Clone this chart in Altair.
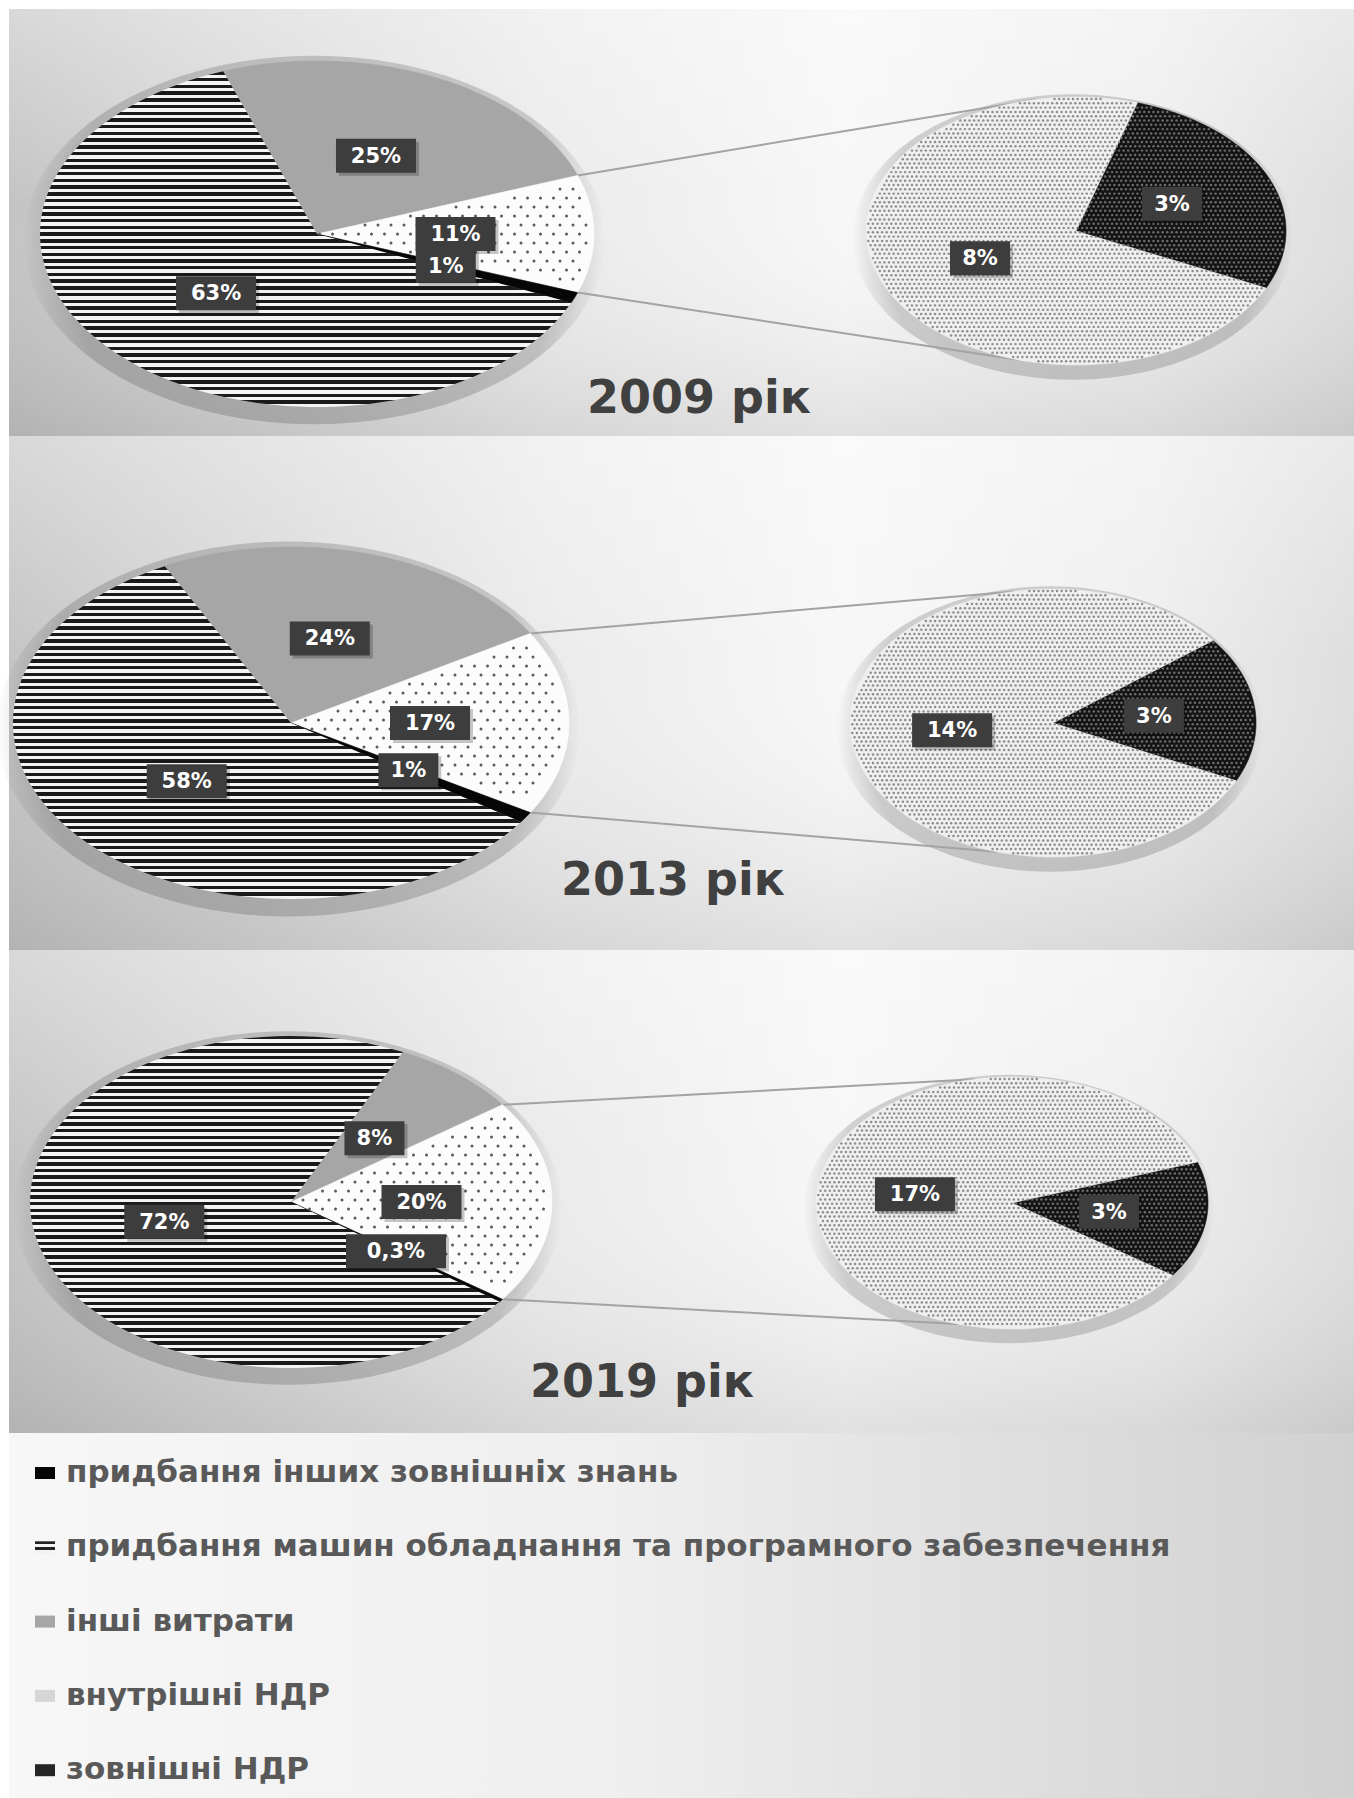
import altair as alt
import pandas as pd

W, H = 1354, 1798

# ---------------- data ----------------
YEARS = ["2009", "2013", "2019"]
YEAR_TITLES = ["2009 рік", "2013 рік", "2019 рік"]

MAIN_CATEGORIES = [
    "інші витрати",
    "НДР",
    "придбання інших зовнішніх знань",
    "придбання машин обладнання та програмного забезпечення",
]
MAIN_2009 = [25, 11, 1, 63]
MAIN_2013 = [24, 17, 1, 58]
MAIN_2019 = [8, 20, 0.3, 72]

SUB_CATEGORIES = ["зовнішні НДР", "внутрішні НДР"]
SUB_2009 = [3, 8]
SUB_2013 = [3, 14]
SUB_2019 = [3, 17]

LEGEND_LABELS = [
    "придбання інших зовнішніх знань",
    "придбання машин обладнання та програмного забезпечення",
    "інші витрати",
    "внутрішні НДР",
    "зовнішні НДР",
]

# ---------------- layout / style ----------------
LAYOUT = {
    "2009": dict(top=9, bottom=436, cx=317, cy=234, a=277, b=173,
                 rcx=1076, rcy=231, ra=210, rb=134, sub_start=17, tx=699, ty=413),
    "2013": dict(top=436, bottom=950, cx=291, cy=723, a=278, b=176,
                 rcx=1053, rcy=723, ra=203, rb=134, sub_start=52, tx=673, ty=895),
    "2019": dict(top=950, bottom=1433, cx=291, cy=1202, a=261, b=166,
                 rcx=1012, rcy=1203, ra=196, rb=126, sub_start=71, tx=642, ty=1397),
}
UP_ANG, DOWN_ANG = -11, 196
FONT = "DejaVu Sans"
GRAY_FILL = "#a6a6a6"
BLACK_FILL = "#060606"
NDR_FILL = "#fcfcfc"
SUB_IN_FILL = "#efefef"
SUB_EX_FILL = "#141414"
LEG_Y0, LEG_DY = 1473, 74.3

XS = alt.Scale(domain=[0, W], range=[0, W], nice=False, zero=False)
YS = alt.Scale(domain=[0, H], range=[0, H], nice=False, zero=False)


def X(f):
    return alt.X(f"{f}:Q", scale=XS, axis=None)


def Y(f):
    return alt.Y(f"{f}:Q", scale=YS, axis=None)


def stop(o, c):
    return alt.GradientStop(offset=o, color=c)


def stripes(n, dark="#1a1a1a", light="#f4f4f4", frac=0.52):
    st = []
    for i in range(n):
        o0, o1, o2 = i / n, (i + frac) / n, (i + 1) / n
        st += [stop(o0, dark), stop(o1, dark), stop(o1, light), stop(min(o2, 1.0), light)]
    return alt.LinearGradient(gradient="linear", stops=st, x1=0, y1=0, x2=0, y2=1)


SHADOW_GRAD = alt.RadialGradient(
    gradient="radial", x1=0.5, y1=0.5, r1=0, x2=0.5, y2=0.5, r2=0.5,
    stops=[stop(0, "rgba(0,0,0,0.18)"), stop(0.86, "rgba(0,0,0,0.16)"), stop(1, "rgba(0,0,0,0)")])

SECTION_GRAD = alt.LinearGradient(
    gradient="linear", x1=0, y1=0, x2=1, y2=0,
    stops=[stop(0, "#c4c4c4"), stop(0.12, "#d1d1d1"), stop(0.4, "#ebebeb"),
           stop(0.62, "#f7f7f7"), stop(0.85, "#eeeeee"), stop(1, "#dedede")])
SECTION_SHADE = alt.LinearGradient(
    gradient="linear", x1=0, y1=0, x2=0, y2=1,
    stops=[stop(0, "rgba(255,255,255,0.35)"), stop(0.45, "rgba(255,255,255,0)"),
           stop(1, "rgba(0,0,0,0.09)")])
LEGEND_GRAD = alt.LinearGradient(
    gradient="linear", x1=0, y1=0, x2=1, y2=0,
    stops=[stop(0, "#f7f7f7"), stop(0.45, "#efefef"), stop(1, "#d1d1d1")])

one = pd.DataFrame({"o": [0]})


def bg_rect(y0, y1, fill):
    return alt.Chart(one).mark_rect(fill=fill, strokeWidth=0).encode(
        x=alt.value(9), x2=alt.value(W), y=alt.value(y0), y2=alt.value(y1))


def angles(cats, vals):
    df = pd.DataFrame({"cat": cats, "val": vals, "ord": list(range(len(cats)))})
    return (alt.Chart(df)
            .transform_window(cum="sum(val)", sort=[alt.SortField("ord")], frame=[None, 0])
            .transform_joinaggregate(tot="sum(val)")
            .transform_calculate(a0="(datum.cum - datum.val) / datum.tot * 360",
                                 a1="datum.cum / datum.tot * 360"))


def polygon(tbl, cx, cy, a, b, n=90):
    return (tbl.transform_calculate(k=f"sequence(0, {n + 2})")
            .transform_flatten(["k"])
            .transform_calculate(
                t=f"(datum.s + (datum.e - datum.s) * max(datum.k - 1, 0) / {n}) * PI / 180",
                px=f"datum.k == 0 ? {cx} : {cx} + {a} * sin(datum.t)",
                py=f"datum.k == 0 ? {cy} : {cy} - {b} * cos(datum.t)"))


def wedge(poly, ordv, fill, solid=True):
    if solid:
        mk = dict(interpolate="linear-closed", fill=fill, stroke=fill, strokeWidth=0.6)
    else:
        mk = dict(interpolate="linear-closed", fill=fill, stroke="transparent", strokeWidth=0)
    return poly.transform_filter(f"datum.ord == {ordv}").mark_line(**mk).encode(
        x=X("px"), y=Y("py"), order=alt.Order("k:Q"))


def shadow(cx, cy, a, b):
    return (alt.Chart(alt.sequence(0, 121, as_="k"))
            .transform_calculate(t="datum.k / 120 * 2 * PI",
                                 px=f"{cx - 3} + {a * 1.05} * sin(datum.t)",
                                 py=f"{cy + 6} - {b * 1.065} * cos(datum.t)")
            .mark_line(interpolate="linear-closed", fill=SHADOW_GRAD, stroke="transparent", strokeWidth=0)
            .encode(x=X("px"), y=Y("py"), order=alt.Order("k:Q")))


def labels(tbl, cx, cy, a, b, r=0.5):
    lab = tbl.transform_calculate(
        mid="(datum.s + datum.e) / 2 * PI / 180",
        px=f"{cx} + {r} * {a} * sin(datum.mid)",
        py=f"{cy} - {r} * {b} * cos(datum.mid)",
        txt="replace(toString(datum.val), '.', ',') + '%'",
        hw="10 * length(datum.txt) + 10",
        bx0="datum.px - datum.hw", bx1="datum.px + datum.hw",
        by0="datum.py - 17", by1="datum.py + 17")
    sh = lab.mark_rect(color="#000000", opacity=0.22, xOffset=3, x2Offset=3, yOffset=3, y2Offset=3).encode(
        x=X("bx0"), x2="bx1:Q", y=Y("by0"), y2="by1:Q")
    box = lab.mark_rect(color="#3d3d3d").encode(x=X("bx0"), x2="bx1:Q", y=Y("by0"), y2="by1:Q")
    txt = lab.mark_text(font=FONT, fontWeight="bold", fontSize=21, color="#ffffff",
                        align="center", baseline="middle", dy=1).encode(
        x=X("px"), y=Y("py"), text="txt:N")
    return [sh, box, txt]


def grid_dots(row_tbl, cx, cy, a, b, dx, dy, inside_col, outside_col, size, margin, r2max, only_inside):
    """Texture dots over an elliptical pie; row_tbl holds one slice (s, e)."""
    rows = int(2 * b / dy) + 2
    cols = int(2 * a / dx) + 2
    t = (row_tbl
         .transform_calculate(gi=f"sequence(0, {rows})")
         .transform_flatten(["gi"])
         .transform_calculate(gj=f"sequence(0, {cols})")
         .transform_flatten(["gj"])
         .transform_calculate(
             px=f"{cx - a} + datum.gj * {dx} + (datum.gi % 2) * {dx / 2}",
             py=f"{cy - b} + datum.gi * {dy} + 2",
             u=f"(datum.px - {cx}) / {a}",
             v=f"(datum.py - {cy}) / {b}",
             ang="(atan2(datum.u, -datum.v) * 180 / PI + 720) % 360",
             rel="(datum.ang - datum.s + 720) % 360",
             ins=f"datum.rel > {margin} && datum.rel < (datum.e - datum.s) - {margin}",
             dc=f"datum.ins ? '{inside_col}' : '{outside_col}'")
         .transform_filter(f"datum.u * datum.u + datum.v * datum.v < {r2max}"))
    if only_inside:
        t = t.transform_filter("datum.ins")
    return t.mark_circle(size=size, opacity=1).encode(
        x=X("px"), y=Y("py"), color=alt.Color("dc:N", scale=None))


def year_layers(year, title, main_vals, sub_vals):
    L = LAYOUT[year]
    cx, cy, a, b = L["cx"], L["cy"], L["a"], L["b"]
    rcx, rcy, ra, rb = L["rcx"], L["rcy"], L["ra"], L["rb"]

    main = (angles(MAIN_CATEGORIES, main_vals)
            .transform_calculate(m1="datum.ord == 1 ? (datum.a0 + datum.a1) / 2 : -1000")
            .transform_joinaggregate(mrot="max(m1)")
            .transform_calculate(s="datum.a0 + 90 - datum.mrot", e="datum.a1 + 90 - datum.mrot"))
    sub = (angles(SUB_CATEGORIES, sub_vals)
           .transform_calculate(s=f"datum.a0 + {L['sub_start']}", e=f"datum.a1 + {L['sub_start']}"))

    mpoly = polygon(main, cx, cy, a, b)
    spoly = polygon(sub, rcx, rcy, ra, rb)

    other = main.transform_filter("datum.ord == 1")
    up = other.transform_calculate(
        px=f"{cx} + {a} * sin(datum.s * PI / 180)", py=f"{cy} - {b} * cos(datum.s * PI / 180)",
        qx=f"{rcx} + {ra} * sin({UP_ANG} * PI / 180)", qy=f"{rcy} - {rb} * cos({UP_ANG} * PI / 180)")
    down = other.transform_calculate(
        px=f"{cx} + {a} * sin(datum.e * PI / 180)", py=f"{cy} - {b} * cos(datum.e * PI / 180)",
        qx=f"{rcx} + {ra} * sin({DOWN_ANG} * PI / 180)", qy=f"{rcy} - {rb} * cos({DOWN_ANG} * PI / 180)")
    conns = [c.mark_rule(color="#a3a3a3", strokeWidth=2).encode(
        x=X("px"), y=Y("py"), x2="qx:Q", y2="qy:Q") for c in (up, down)]

    layers = [shadow(cx, cy, a, b), shadow(rcx, rcy, ra, rb)] + conns
    layers += [
        wedge(mpoly, 0, GRAY_FILL),
        wedge(mpoly, 1, NDR_FILL),
        wedge(mpoly, 2, BLACK_FILL),
        wedge(mpoly, 3, stripes(50), solid=False),
        grid_dots(other, cx, cy, a, b, 13, 9, "#5a5a5a", "#5a5a5a", 9, 2.5, 0.95, True),
        wedge(spoly, 0, SUB_EX_FILL),
        wedge(spoly, 1, SUB_IN_FILL),
        grid_dots(sub.transform_filter("datum.ord == 0"), rcx, rcy, ra, rb, 4.6, 4.3,
                  "#6e6e6e", "#8c8c8c", 6, 0.6, 0.985, False),
    ]
    layers += labels(main, cx, cy, a, b)
    layers += labels(sub, rcx, rcy, ra, rb)
    layers.append(
        alt.Chart(pd.DataFrame({"title": [title]}))
        .mark_text(font=FONT, fontWeight="bold", fontSize=46, color="#404040",
                   align="center", baseline="alphabetic")
        .encode(x=alt.value(L["tx"]), y=alt.value(L["ty"]), text="title:N"))
    return layers


layers = []
for yr in YEARS:
    L = LAYOUT[yr]
    layers += [bg_rect(L["top"], L["bottom"], SECTION_GRAD), bg_rect(L["top"], L["bottom"], SECTION_SHADE)]
layers.append(bg_rect(1433, H, LEGEND_GRAD))

for yr, ttl, mv, sv in zip(YEARS, YEAR_TITLES,
                           [MAIN_2009, MAIN_2013, MAIN_2019],
                           [SUB_2009, SUB_2013, SUB_2019]):
    layers += year_layers(yr, ttl, mv, sv)

# ---------------- legend ----------------
leg = (alt.Chart(pd.DataFrame({"name": LEGEND_LABELS, "i": list(range(len(LEGEND_LABELS)))}))
       .transform_calculate(py=f"{LEG_Y0} + datum.i * {LEG_DY}",
                            sy0="datum.py - 6", sy1="datum.py + 6"))
LEG_SYMBOLS = [BLACK_FILL, stripes(2, dark="#222222", light="#f2f2f2", frac=0.45),
               GRAY_FILL, "#d6d6d6", "#262626"]
for i, f in enumerate(LEG_SYMBOLS):
    layers.append(leg.transform_filter(f"datum.i == {i}").mark_rect(fill=f, strokeWidth=0).encode(
        x=alt.value(35), x2=alt.value(55), y=Y("sy0"), y2="sy1:Q"))
layers.append(leg.mark_text(font=FONT, fontWeight="bold", fontSize=31, color="#595959",
                            align="left", baseline="middle").encode(
    x=alt.value(66), y=Y("py"), text="name:N"))

chart = (alt.layer(*layers)
         .properties(width=W, height=H, padding=0,
                     autosize=alt.AutoSizeParams(type="none"), background="#ffffff")
         .configure_view(strokeWidth=0))

chart.save("out.html", embed_options={"renderer": "svg", "actions": False})
